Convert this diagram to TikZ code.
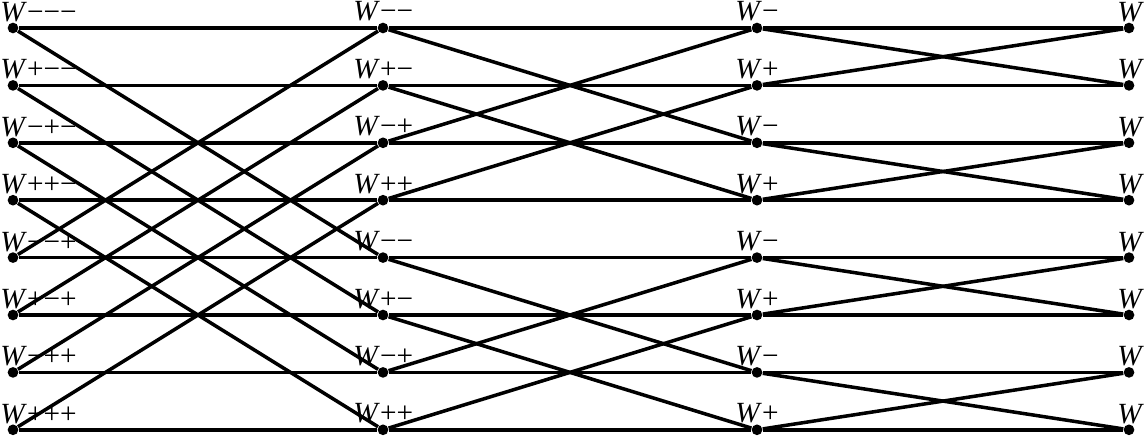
\documentclass[tikz,border=0pt]{standalone}
\usepackage{fontspec}
\setmainfont{Liberation Serif}

\begin{document}
\begin{tikzpicture}[
  x=0.015cm, y=-0.015cm,
  dot/.style={circle, fill, inner sep=0pt, minimum size=0.16cm},
  lbl/.style={anchor=base west, inner sep=0pt, font=\fontsize{12.5}{14}\selectfont},
  wire/.style={line width=1.5pt}
]
  \useasboundingbox (0,0) rectangle (1146,439);

  % Dots
  \foreach \c/\x in {1/13, 2/383, 3/757, 4/1129}
    \foreach \r in {0,...,7}
      \node[dot] (d\c-\r) at (\x, 28+57.4*\r) {};

  % Straight wires
  \foreach \c/\n in {1/2, 2/3, 3/4}
    \foreach \r in {0,...,7}
      \draw[wire] (d\c-\r) -- (d\n-\r);

  % Stage 1: span 4
  \foreach \r in {0,...,3} {
    \pgfmathtruncatemacro\s{\r+4}
    \draw[wire] (d1-\r) -- (d2-\s);
    \draw[wire] (d1-\s) -- (d2-\r);
  }

  % Stage 2: span 2
  \foreach \r in {0,1,4,5} {
    \pgfmathtruncatemacro\s{\r+2}
    \draw[wire] (d2-\r) -- (d3-\s);
    \draw[wire] (d2-\s) -- (d3-\r);
  }

  % Stage 3: span 1
  \foreach \r in {0,2,4,6} {
    \pgfmathtruncatemacro\s{\r+1}
    \draw[wire] (d3-\r) -- (d4-\s);
    \draw[wire] (d3-\s) -- (d4-\r);
  }

  % Labels
  \foreach \r/\t in {0/−−−, 1/+−−, 2/−+−, 3/++−, 4/−−+, 5/+−+, 6/−++, 7/+++}
    \node[lbl] (w1-\r) at (0, 21.5+57.4*\r) {\textit{W}\t};
  \foreach \r/\t in {0/−−, 1/+−, 2/−+, 3/++, 4/−−, 5/+−, 6/−+, 7/++}
    \node[lbl] (w2-\r) at (353, 21+57.4*\r) {\textit{W}\t};
  \foreach \r/\t in {0/−, 1/+, 2/−, 3/+, 4/−, 5/+, 6/−, 7/+}
    \node[lbl] (w3-\r) at (735, 21+57.4*\r) {\textit{W}\t};
  \foreach \r in {0,...,7}
    \node[lbl] (w4-\r) at (1117, 21.5+57.4*\r) {\textit{W}};

\end{tikzpicture}
\end{document}
